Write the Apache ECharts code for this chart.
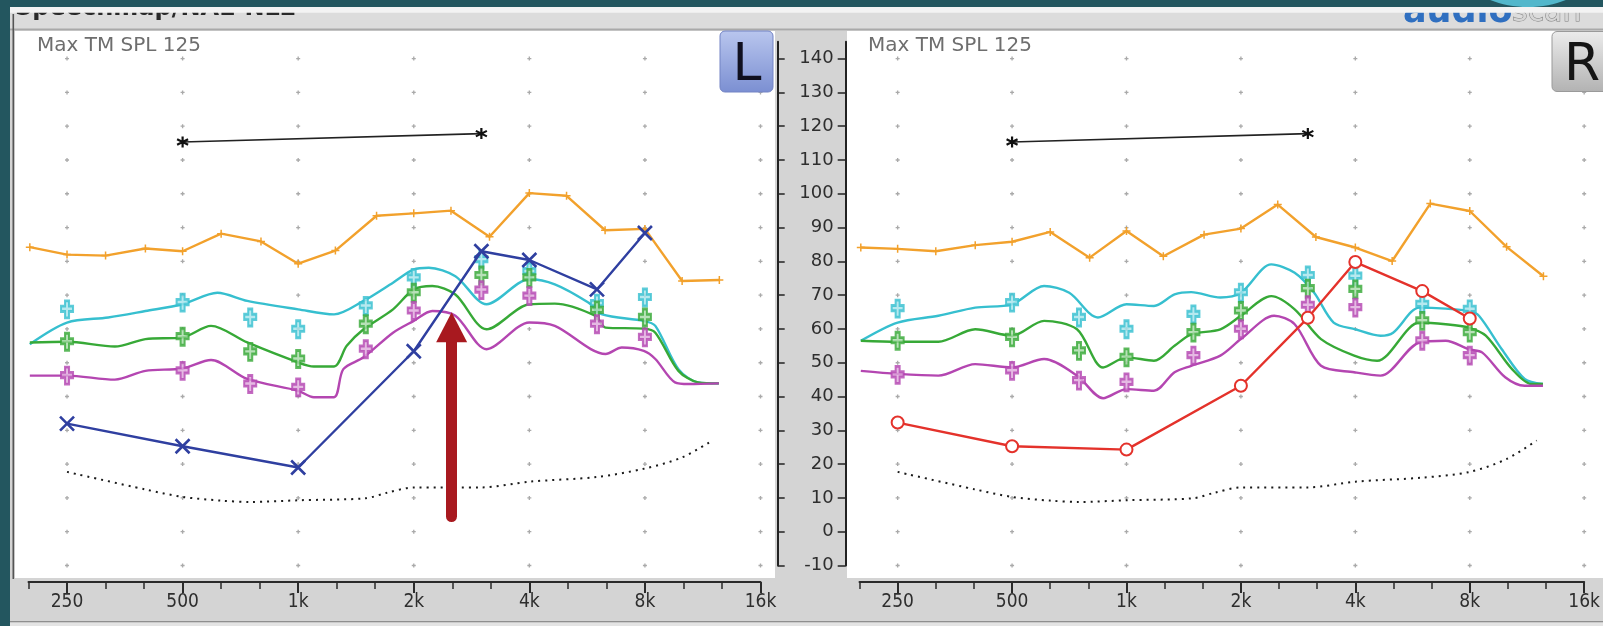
<!DOCTYPE html>
<html><head><meta charset="utf-8">
<script src="https://cdn.jsdelivr.net/npm/echarts@6/dist/echarts.min.js"></script>
<style>html,body{margin:0;padding:0;background:#23565f;}#c{width:1603px;height:626px;}</style>
</head><body><div id="c"></div>
<script>
// ---------- axis ticks / labels ----------
const octaveFreqs = [250, 500, 1000, 2000, 4000, 8000, 16000];
const octaveLabels = ['250', '500', '1k', '2k', '4k', '8k', '16k'];
const thirdOctaveSteps = [-1,0,1,2,3,4,5,6,7,8,9,10,11,12,13,14,15,16,17,18]; // in 1/3 octave from 250 Hz
const dbTicks = [-10,0,10,20,30,40,50,60,70,80,90,100,110,120,130,140];

// ---------- curves ----------
const uclFreqs = [200,250,315,400,500,630,800,1000,1250,1600,2000,2500,3150,4000,5000,6300,8000,10000,12500];
const leftUcl  = [84.2,82.0,81.7,83.8,83.0,88.2,85.9,79.3,83.2,93.5,94.2,95.0,87.3,100.2,99.4,89.2,89.6,74.2,74.5];
const rightUcl = [84.1,83.7,83.0,84.8,85.8,88.7,81.1,89.0,81.5,87.9,89.7,96.8,87.2,84.1,80.1,97.1,94.9,84.3,75.6];

const leftCyan = [[200,55.5],[250,61.9],[320,63.4],[400,65.3],[500,67.3],[616,70.7],[737,68.3],[1000,65.8],[1240,64.3],[1480,68.3],[1766,73.7],[2000,77.6],[2189,78.1],[2567,75.6],[3095,67.3],[4000,74.7],[4660,73.2],[5697,67.8],[6189,64.3],[7945,62.4],[8516,60.9],[9781,48.1],[11003,44.2],[12465,43.9]];
const leftGreen = [[200,56.0],[250,56.2],[333,54.8],[400,57.0],[500,57.5],[593,60.9],[737,56.0],[1000,50.1],[1098,48.9],[1240,48.9],[1338,55.0],[1480,59.9],[1766,65.8],[2000,71.7],[2235,72.7],[2567,70.2],[3095,59.9],[4000,67.3],[4660,67.5],[5937,63.9],[6320,60.4],[7945,60.1],[8516,58.9],[9781,47.6],[11003,44.2],[12465,43.9]];
const leftMagenta = [[200,46.2],[250,46.2],[333,45.0],[400,47.6],[500,48.3],[593,50.8],[737,45.2],[1000,41.7],[1098,39.8],[1240,39.8],[1311,48.1],[1480,51.6],[1766,58.9],[2000,62.4],[2235,65.3],[2567,63.9],[3095,54.0],[4000,61.9],[4660,60.9],[6320,52.6],[6964,54.5],[7945,53.5],[8516,51.1],[9580,44.2],[10410,43.7],[12465,43.9]];

const rightCyan = [[200,56.5],[250,61.9],[320,63.9],[400,66.3],[500,67.3],[607,72.7],[707,70.7],[841,63.4],[1000,67.3],[1181,66.8],[1338,70.2],[1480,70.9],[1766,69.3],[2000,70.7],[2404,79.1],[2770,76.6],[3117,70.7],[3507,61.9],[4000,59.9],[4660,58.0],[5028,58.9],[5898,66.3],[6916,66.0],[7945,65.3],[8457,63.9],[9714,54.0],[11156,45.2],[12465,43.7]];
const rightGreen = [[200,56.5],[250,56.2],[320,56.2],[400,59.9],[500,58.0],[607,62.4],[741,59.9],[868,48.6],[1000,51.6],[1181,50.6],[1338,55.0],[1480,58.4],[1766,59.9],[2000,63.9],[2404,69.7],[2770,65.8],[3249,57.0],[3972,52.1],[4563,50.6],[5898,61.9],[6916,61.4],[7945,60.4],[8817,58.0],[10338,48.1],[11630,43.7],[12465,43.7]];
const rightMagenta = [[200,47.6],[250,46.7],[320,46.2],[400,49.6],[500,48.6],[607,51.1],[741,46.2],[868,39.5],[1000,42.2],[1181,41.7],[1338,47.2],[1480,49.1],[1766,52.1],[2000,57.0],[2446,63.9],[2770,61.4],[3249,49.1],[3972,47.2],[4660,46.2],[5898,56.0],[6916,56.5],[7945,54.0],[8635,53.0],[9917,45.7],[11156,43.2],[12465,43.2]];

const markerFreqs = [250,500,750,1000,1500,2000,3000,4000,6000,8000];
const leftCyanMk    = [65.8,67.8,63.4,59.9,66.8,75.1,80.5,77.0,67.5,69.3];
const leftGreenMk   = [56.2,57.7,53.2,51.1,61.4,70.7,75.8,75.1,65.5,63.4];
const leftMagentaMk = [46.2,47.6,43.7,42.7,54.0,65.3,71.5,69.7,61.4,57.5];
const rightCyanMk    = [66.0,67.8,63.4,59.9,64.3,70.7,75.8,75.6,67.3,65.8];
const rightGreenMk   = [56.5,57.5,53.5,51.6,58.9,65.3,71.9,71.7,62.4,58.9];
const rightMagentaMk = [46.4,47.6,44.7,44.2,52.1,59.9,67.0,66.3,56.5,52.1];

const threshFreqs = [250,400,500,630,750,1000,1500,1700,2000,3000,4000,6000,8000,10000,12000];
const leftThresh  = [17.7,12.5,10.3,9.2,8.8,9.3,9.9,11.5,13.1,13.1,14.8,16.2,18.7,22.0,27.0];
const rightThresh = [17.7,12.5,10.3,9.2,8.8,9.3,9.9,11.5,13.1,13.1,14.8,16.0,17.7,21.5,27.0];

const maxFreqs = [500, 3000];
const leftMax  = [115.3, 117.8];
const rightMax = [115.3, 117.8];

const hearingFreqs = [250,500,1000,2000,3000,4000,6000,8000];
const leftHearing  = [32.0,25.3,19.0,53.4,83.0,80.4,71.7,88.4];
const rightHearing = [32.3,25.3,24.3,43.2,63.3,79.8,71.2,63.1];

const arrowFreq = 2510, arrowFromDb = 4.5, arrowToDb = 60.5;

// ---------- helpers ----------
const oct = f => Math.log2(f / 250);
const pairs = arr => arr.map(p => [oct(p[0]), p[1]]);
const zipF = (fs, ds) => fs.map((f, i) => [oct(f), ds[i]]);
const majorPos = octaveFreqs.map(oct);
const minorPos = thirdOctaveSteps.map(k => k / 3);

const C = {orange:'#f2a12c', cyan:'#36bfcf', green:'#37a937', magenta:'#b446b1', blue:'#2f3fa0', red:'#e4322b'};
const PLUS_PATH = 'path://M4,0H8V5H12V10H8V16H4V10H0V5H4Z';
const SMALL_PLUS = 'path://M4,0V8M0,4H8';
const X_PATH = 'path://M0,0L10,10M10,0L0,10';
const AST_PATH = 'path://M5,0V10M0.7,2.5L9.3,7.5M0.7,7.5L9.3,2.5';
const DOT_PATH = 'path://M1,0H2V1H3V2H2V3H1V2H0V1H1Z';
const FONT = 'DejaVu Sans, Noto Sans, sans-serif';
const XFONT = 'DejaVu Sans Condensed, Liberation Sans Narrow, DejaVu Sans, sans-serif';

const gridDots = [];
majorPos.forEach(x => dbTicks.forEach(d => gridDots.push([x, d])));

function xAxes(gi) {
  return [
    {type:'value', gridIndex:gi, min:-1/3, max:6, position:'bottom', offset:16.5,
     axisLine:{show:true, onZero:false, lineStyle:{color:'#2a2a2a', width:2}},
     axisTick:{show:true, customValues:minorPos, length:7, lineStyle:{color:'#2a2a2a', width:1.5}},
     axisLabel:{show:false}, splitLine:{show:false}},
    {type:'value', gridIndex:gi, min:-1/3, max:6, position:'bottom', offset:16.5,
     axisLine:{show:false, onZero:false},
     axisTick:{show:true, customValues:majorPos, length:11, lineStyle:{color:'#2a2a2a', width:2}},
     axisLabel:{show:true, customValues:majorPos, margin:11, fontSize:19, color:'#2e2e2e', fontFamily:XFONT,
       formatter: v => octaveLabels[Math.round(v)]},
     splitLine:{show:false}}
  ];
}
function yAxisHidden(gi) {
  return {type:'value', gridIndex:gi, min:-10, max:145, show:false, axisLine:{onZero:false}, splitLine:{show:false}};
}

function earSeries(xi, yi, d) {
  const base = {xAxisIndex:xi, yAxisIndex:yi, silent:true};
  const s = [];
  s.push(Object.assign({}, base, {type:'scatter', data:gridDots, symbol:DOT_PATH, symbolSize:4,
    itemStyle:{color:'#959595'}, z:1}));
  s.push(Object.assign({}, base, {type:'line', data:zipF(threshFreqs, d.thresh), showSymbol:false, smooth:0.3,
    lineStyle:{color:'#1a1a1a', width:2, type:[2,5]}, z:2}));
  s.push(Object.assign({}, base, {type:'line', data:zipF(uclFreqs, d.ucl), symbol:SMALL_PLUS, symbolSize:8,
    itemStyle:{color:C.orange, borderColor:C.orange, borderWidth:1.5}, lineStyle:{color:C.orange, width:2.4}, z:3}));
  [[d.cyan, C.cyan], [d.green, C.green], [d.magenta, C.magenta]].forEach(([arr, col]) => {
    s.push(Object.assign({}, base, {type:'line', data:pairs(arr), showSymbol:false, smooth:0.3,
      lineStyle:{color:col, width:2.4}, z:3}));
  });
  [[d.cyanMk, C.cyan, '#a4e3eb'], [d.greenMk, C.green, '#a6daa6'], [d.magentaMk, C.magenta, '#dfa8dc']].forEach(([arr, col, fill]) => {
    s.push(Object.assign({}, base, {type:'scatter', data:zipF(markerFreqs, arr), symbol:PLUS_PATH, symbolSize:[12,17],
      itemStyle:{color:fill, borderColor:col, borderWidth:2.4}, z:4}));
  });
  s.push(Object.assign({}, base, {type:'line', data:zipF(maxFreqs, d.max), symbol:AST_PATH, symbolSize:11,
    itemStyle:{color:'#111', borderColor:'#111', borderWidth:2.2}, lineStyle:{color:'#222', width:1.6}, z:5}));
  const hear = Object.assign({}, base, {type:'line', data:zipF(hearingFreqs, d.hearing), z:6});
  if (d.side === 'L') {
    Object.assign(hear, {symbol:X_PATH, symbolSize:14,
      itemStyle:{color:C.blue, borderColor:C.blue, borderWidth:2.6}, lineStyle:{color:C.blue, width:2.4}});
    hear.markLine = {silent:true, symbol:['none','triangle'], symbolSize:[31,30],
      label:{show:false}, lineStyle:{color:'#a8191f', width:11, type:'solid', cap:'round'},
      itemStyle:{color:'#a8191f'},
      data:[[{coord:[oct(arrowFreq), arrowFromDb]}, {coord:[oct(arrowFreq), arrowToDb]}]]};
  } else {
    Object.assign(hear, {symbol:'emptyCircle', symbolSize:12,
      itemStyle:{color:C.red, borderWidth:2.2}, lineStyle:{color:C.red, width:2.4}});
  }
  s.push(hear);
  return s;
}

const grad = (a, b) => ({type:'linear', x:0, y:0, x2:0, y2:1, colorStops:[{offset:0, color:a}, {offset:1, color:b}]});

const graphics = [
  {type:'rect', z:-20, silent:true, shape:{x:10, y:7, width:1600, height:626}, style:{fill:'#d4d4d4'}},
  {type:'rect', z:-19, silent:true, shape:{x:10, y:12, width:1600, height:19}, style:{fill:'#dcdcdc'}},
  {type:'rect', z:-19, silent:true, shape:{x:10, y:28.5, width:1600, height:2}, style:{fill:'#a9a9a9'}},
  {type:'rect', z:-18, silent:true, shape:{x:15, y:31, width:760, height:547}, style:{fill:'#ffffff'}},
  {type:'rect', z:-18, silent:true, shape:{x:847, y:31, width:760, height:547}, style:{fill:'#ffffff'}},
  {type:'rect', z:-17, silent:true, shape:{x:12.5, y:14, width:1.6, height:565}, style:{fill:'#555'}},
  {type:'rect', z:-17, silent:true, shape:{x:10, y:621, width:1600, height:1.5}, style:{fill:'#8f8f8f'}},
  {type:'rect', z:-17, silent:true, shape:{x:10, y:622.5, width:1600, height:4}, style:{fill:'#e4e4e4'}},
  {type:'text', z:10, silent:true, x:37, y:45.3, style:{text:'Max TM SPL 125', font:'20px ' + FONT, fill:'#6e6e6e', verticalAlign:'middle'}},
  {type:'text', z:10, silent:true, x:868, y:45.3, style:{text:'Max TM SPL 125', font:'20px ' + FONT, fill:'#6e6e6e', verticalAlign:'middle'}},
  {type:'rect', z:10, silent:true, shape:{x:720, y:31, width:53, height:61, r:5}, style:{fill:grad('#b9c6ee', '#7b8fd2'), stroke:'#7283c4', lineWidth:1}},
  {type:'text', z:11, silent:true, x:747, y:66, style:{text:'L', font:'52px ' + FONT, fill:'#101020', align:'center', verticalAlign:'middle'}},
  {type:'rect', z:10, silent:true, shape:{x:1552, y:31.5, width:60, height:60, r:5}, style:{fill:grad('#ececec', '#b2b2b2'), stroke:'#9a9a9a', lineWidth:1}},
  {type:'text', z:11, silent:true, x:1582, y:66, style:{text:'R', font:'52px ' + FONT, fill:'#151515', align:'center', verticalAlign:'middle'}},
  {type:'text', z:20, silent:true, x:15, y:8.5, style:{text:'Speechmap/NAL-NL2', font:'bold 24px ' + FONT, fill:'#2a2a2a', verticalAlign:'middle'}},
  {type:'text', z:20, silent:true, x:1403, y:12.5, style:{text:'audio', font:'bold 35px ' + FONT, fill:'#2f6fc0', verticalAlign:'middle'}},
  {type:'text', z:20, silent:true, x:1512, y:13, style:{text:'scan', font:'30px ' + FONT, fill:'#d6d6d6', stroke:'#7d7d7d', lineWidth:1, verticalAlign:'middle'}},
  {type:'rect', z:21, silent:true, shape:{x:10, y:7, width:1600, height:5.7}, style:{fill:'#f3f3f3'}},
  {type:'rect', z:22, silent:true, shape:{x:0, y:0, width:1610, height:7}, style:{fill:'#23565f'}},
  {type:'ellipse', z:23, silent:true, shape:{cx:1528, cy:-40, rx:72, ry:47}, style:{fill:'#52b7cb'}}
];

const option = {
  animation:false,
  backgroundColor:'#23565f',
  graphic:{elements:graphics},
  grid:[
    {left:28.5, top:41.7, width:732, height:523.8},
    {left:859.5, top:41.7, width:732, height:523.8},
    {left:777.7, top:41.7, width:68, height:523.8}
  ],
  xAxis:[].concat(xAxes(0), xAxes(1), [{type:'value', gridIndex:2, min:0, max:1, show:false}]),
  yAxis:[
    yAxisHidden(0), yAxisHidden(1),
    {type:'value', gridIndex:2, position:'left', min:-10, max:145,
     axisLine:{show:true, onZero:false, lineStyle:{color:'#222', width:2}},
     axisTick:{show:true, inside:true, length:7, customValues:dbTicks, lineStyle:{color:'#222', width:1.5}},
     axisLabel:{show:false}, splitLine:{show:false}},
    {type:'value', gridIndex:2, position:'right', min:-10, max:145,
     axisLine:{show:true, onZero:false, lineStyle:{color:'#222', width:2}},
     axisTick:{show:true, inside:true, length:8, customValues:dbTicks, lineStyle:{color:'#222', width:1.5}},
     axisLabel:{show:true, inside:true, margin:12, customValues:dbTicks, fontSize:18, color:'#2e2e2e', fontFamily:FONT},
     splitLine:{show:false}}
  ],
  series:[].concat(
    earSeries(0, 0, {side:'L', ucl:leftUcl, cyan:leftCyan, green:leftGreen, magenta:leftMagenta,
      cyanMk:leftCyanMk, greenMk:leftGreenMk, magentaMk:leftMagentaMk, thresh:leftThresh, max:leftMax, hearing:leftHearing}),
    earSeries(2, 1, {side:'R', ucl:rightUcl, cyan:rightCyan, green:rightGreen, magenta:rightMagenta,
      cyanMk:rightCyanMk, greenMk:rightGreenMk, magentaMk:rightMagentaMk, thresh:rightThresh, max:rightMax, hearing:rightHearing})
  )
};
echarts.init(document.getElementById('c')).setOption(option);
</script></body></html>
